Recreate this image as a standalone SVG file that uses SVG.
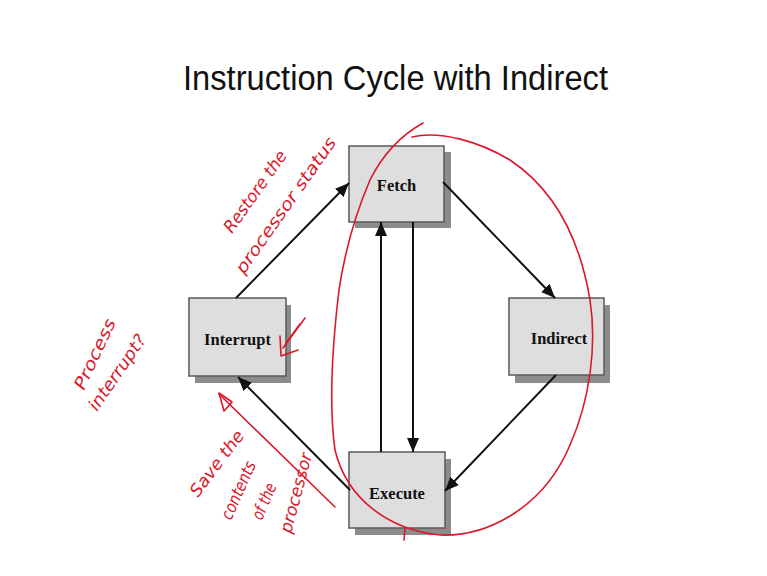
<svg xmlns="http://www.w3.org/2000/svg" width="767" height="576" viewBox="0 0 767 576">
  <style>
    .shadow { fill: #8c8c8c; }
    .box { fill: #dedede; stroke: #5a5a5a; stroke-width: 1.5; }
    .label { font-family: "Liberation Serif", "Times New Roman", serif; font-weight: bold; font-size: 16.5px; fill: #111; text-anchor: middle; }
    .title { font-family: "Liberation Sans", Arial, sans-serif; font-size: 35px; fill: #111; }
    .edge { stroke: #111; stroke-width: 2; fill: none; marker-end: url(#arrow); }
    .ink { stroke: #d9192b; stroke-width: 1.6; fill: none; stroke-linecap: round; stroke-linejoin: round; }
    .note { font-family: "DejaVu Sans", sans-serif; font-style: italic; font-size: 17px; fill: #d9192b; }
  </style>
  <defs>
    <marker id="arrow" viewBox="0 0 14 12" refX="14" refY="6" markerWidth="14" markerHeight="12" markerUnits="userSpaceOnUse" orient="auto">
      <path d="M0,0 L14,6 L0,12 Z" fill="#111"/>
    </marker>
  </defs>

  <rect width="767" height="576" fill="#ffffff"/>

  <text class="title" x="183" y="90" textLength="425" lengthAdjust="spacingAndGlyphs">Instruction Cycle with Indirect</text>

  <!-- nodes -->
  <g id="fetch">
    <rect class="shadow" x="355" y="152" width="96" height="76"/>
    <rect class="box" x="349" y="146" width="95" height="76"/>
    <text class="label" x="396.5" y="191">Fetch</text>
  </g>
  <g id="interrupt">
    <rect class="shadow" x="195" y="305" width="96" height="78"/>
    <rect class="box" x="189" y="298" width="97" height="78"/>
    <text class="label" x="237.5" y="345">Interrupt</text>
  </g>
  <g id="indirect">
    <rect class="shadow" x="515" y="305" width="95" height="78"/>
    <rect class="box" x="509" y="298" width="95" height="77"/>
    <text class="label" x="559" y="344">Indirect</text>
  </g>
  <g id="execute">
    <rect class="shadow" x="355" y="459" width="96" height="76"/>
    <rect class="box" x="349" y="452" width="96" height="76"/>
    <text class="label" x="397" y="499">Execute</text>
  </g>

  <!-- connectors -->
  <g id="connectors">
    <line class="edge" x1="236" y1="298" x2="349" y2="183"/>
    <line class="edge" x1="443" y1="182" x2="555" y2="298"/>
    <line class="edge" x1="556" y1="375" x2="445" y2="491"/>
    <line class="edge" x1="350" y1="490" x2="238" y2="377"/>
    <line class="edge" x1="381" y1="452" x2="381" y2="222"/>
    <line class="edge" x1="413" y1="222" x2="413" y2="452"/>
  </g>

  <!-- red ink annotations -->
  <g id="annotations">
    <path class="ink" d="M423,123 C405,133 385,150 370,180 C355,215 345,250 339,290 C333,340 328,400 335,450 C347,500 390,530 440,535 C490,537 545,505 570,445 C590,400 597,345 590,300 C580,240 555,190 510,160 C480,142 440,130 412,137"/>
    <path class="ink" d="M405,528 L404,540"/>
    <path class="ink" d="M335,507 L219,394"/>
    <path class="ink" d="M219,393 L224,411 L232,402 Z"/>
    <path class="ink" d="M305,318 L283,348 M300,324 L286,343"/>
    <path class="ink" d="M280,336 L281,356 L298,350"/>

    <text class="note" transform="translate(232,234) rotate(-54.5)" textLength="96" lengthAdjust="spacingAndGlyphs">Restore the</text>
    <text class="note" transform="translate(244,275) rotate(-55)" textLength="162" lengthAdjust="spacingAndGlyphs">processor status</text>

    <text class="note" transform="translate(84,391) rotate(-65)" textLength="76" lengthAdjust="spacingAndGlyphs">Process</text>
    <text class="note" transform="translate(97,412) rotate(-55.5)" textLength="88" lengthAdjust="spacingAndGlyphs">interrupt?</text>

    <text class="note" transform="translate(198,498) rotate(-53)" textLength="78" lengthAdjust="spacingAndGlyphs">Save the</text>
    <text class="note" transform="translate(231,521) rotate(-66)" textLength="62" lengthAdjust="spacingAndGlyphs">contents</text>
    <text class="note" transform="translate(262,521) rotate(-67)" textLength="38" lengthAdjust="spacingAndGlyphs">of the</text>
    <text class="note" transform="translate(291,534) rotate(-75)" textLength="82" lengthAdjust="spacingAndGlyphs">processor</text>
  </g>
</svg>
